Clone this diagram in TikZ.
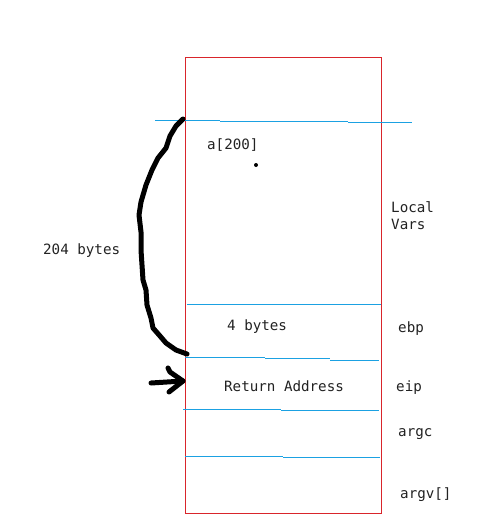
\documentclass[tikz,border=0pt]{standalone}
\usepackage{fontspec}
\newfontfamily\monofont{DejaVu Sans Mono}
\definecolor{boxred}{HTML}{D9252B}
\definecolor{lineblue}{HTML}{1BA1E2}
\definecolor{txt}{HTML}{222222}
\tikzset{
  lbl/.style={anchor=west, inner sep=0pt, font=\monofont\fontsize{14.2}{16}\selectfont, text=txt},
  sep/.style={draw=lineblue, line width=1pt},
  pen/.style={draw=black, line width=5pt, line cap=round, line join=round}
}
\begin{document}
\begin{tikzpicture}[x=1pt,y=-1pt]
\useasboundingbox (0,0) rectangle (485,531);
% stack box
\node[draw=boxred, line width=1.2pt, minimum width=196pt, minimum height=456pt, inner sep=0pt, anchor=north west] (stack) at (185,57) {};
% separators
\coordinate (s1a) at (155,120); \coordinate (s1b) at (220,120); \coordinate (s1c) at (220,121); \coordinate (s1d) at (348,121); \coordinate (s1e) at (348,122); \coordinate (s1f) at (412,122);
\draw[sep] (s1a) -- (s1b); \draw[sep] (s1c) -- (s1d); \draw[sep] (s1e) -- (s1f);
\coordinate (s2a) at (187,304); \coordinate (s2b) at (381,304);
\draw[sep] (s2a) -- (s2b);
\coordinate (s3a) at (185,357); \coordinate (s3b) at (265,357); \coordinate (s3c) at (265,358); \coordinate (s3d) at (330,358); \coordinate (s3e) at (330,360); \coordinate (s3f) at (379,360);
\draw[sep] (s3a) -- (s3b); \draw[sep] (s3c) -- (s3d); \draw[sep] (s3e) -- (s3f);
\coordinate (s4a) at (183,409); \coordinate (s4b) at (281,409); \coordinate (s4c) at (281,410); \coordinate (s4d) at (379,410);
\draw[sep] (s4a) -- (s4b); \draw[sep] (s4c) -- (s4d);
\coordinate (s5a) at (185,456); \coordinate (s5b) at (283,456); \coordinate (s5c) at (283,457); \coordinate (s5d) at (380,457);
\draw[sep] (s5a) -- (s5b); \draw[sep] (s5c) -- (s5d);
% labels
\node[lbl] (arr) at (207,145) {a[200]};
\node[circle, fill=black, inner sep=0pt, minimum size=4pt] (dot) at (256,165) {};
\node[lbl] (local) at (391,207) {Local};
\node[lbl] (vars) at (391,224) {Vars};
\node[lbl] (b204) at (43,251) {204 bytes};
\node[lbl] (b4) at (227,327) {4 bytes};
\node[lbl] (ebp) at (398,329) {ebp};
\node[lbl] (ret) at (224,386) {Return Address};
\node[lbl] (eip) at (396,388) {eip};
\node[lbl] (argc) at (398,434) {argc};
\node[lbl] (argv) at (400,495) {argv[]};
% freehand brace
\coordinate (ctop) at (183,119);
\coordinate (cbot) at (187,354);
\draw[pen] (ctop) -- (176,126) -- (170,136) -- (166,148) -- (158,158) -- (152,170) -- (146,185) -- (141,202) -- (139,215) -- (141,232) -- (141,250) -- (142,265) -- (143,280) -- (146,290) -- (147,305) -- (151,318) -- (153,328) -- (160,336) -- (166,343) -- (176,350) -- (cbot);
% hand-drawn arrow
\coordinate (atail) at (151,383);
\coordinate (atip) at (183,381);
\coordinate (aup) at (168,368);
\coordinate (alow) at (169,392);
\draw[pen] (atail) -- (atip);
\draw[pen] (aup) -- (170,372) -- (atip) -- (alow);
\end{tikzpicture}
\end{document}
